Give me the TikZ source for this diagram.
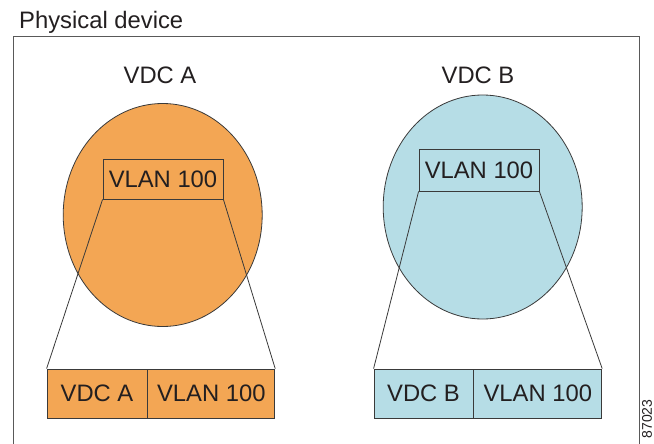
\documentclass[tikz,border=0pt]{standalone}
\usepackage{fontspec}
\setmainfont{Liberation Sans}
\usetikzlibrary{shapes.geometric}
\definecolor{orng}{HTML}{F3A654}
\definecolor{lblue}{HTML}{B6DDE6}
\definecolor{ink}{HTML}{231F20}
\definecolor{edge}{HTML}{3A3A3A}
\begin{document}
\begin{tikzpicture}[x=1pt,y=-1pt,
  lbl/.style={font=\fontsize{23.8}{26}\selectfont, text=ink, inner sep=0pt},
  vdc/.style={ellipse, draw=edge, line width=0.8pt, inner sep=0pt},
  vbox/.style={draw=edge, line width=0.8pt, inner sep=0pt, font=\fontsize{23.8}{26}\selectfont, text=ink},
  link/.style={draw=edge, line width=0.8pt}]
\useasboundingbox (0,0) rectangle (654,444);
\fill[white] (0,0) rectangle (654,444);
% physical device frame
\node[lbl, anchor=base west] (pd) at (19,28.5) {Physical device};
\coordinate (fbl) at (13,450);
\coordinate (ftl) at (13,36);
\coordinate (ftr) at (639,36);
\coordinate (fbr) at (639,450);
\draw[draw=black!65, line width=0.9pt] (fbl) -- (ftl) -- (ftr) -- (fbr);
% VDC A
\node[lbl] (la) at (160,75) {VDC A};
\node[vdc, fill=orng, minimum width=199pt, minimum height=223pt] (ea) at (162.7,215) {};
\node[vbox, minimum width=120pt, minimum height=40pt] (ia) at (163,179) {VLAN 100};
\node[vbox, fill=orng, minimum width=100pt, minimum height=49pt] (ba1) at (97,393.5) {VDC A};
\node[vbox, fill=orng, minimum width=127pt, minimum height=49pt, anchor=west] (ba2) at (ba1.east) {VLAN 100};
\draw[link] (ia.south west) -- (ba1.north west);
\draw[link] (ia.south east) -- (ba2.north east);
% VDC B
\node[lbl] (lb) at (478,75) {VDC B};
\node[vdc, fill=lblue, minimum width=199pt, minimum height=224pt] (eb) at (482.7,207) {};
\node[vbox, minimum width=120pt, minimum height=42pt] (ib) at (479,170) {VLAN 100};
\node[vbox, fill=lblue, minimum width=99pt, minimum height=49pt] (bb1) at (423.5,393.5) {VDC B};
\node[vbox, fill=lblue, minimum width=128pt, minimum height=49pt, anchor=west] (bb2) at (bb1.east) {VLAN 100};
\draw[link] (ib.south west) -- (bb1.north west);
\draw[link] (ib.south east) -- (bb2.north east);
% figure number
\node[font=\fontsize{14}{16}\selectfont, text=ink, rotate=90, inner sep=0pt] (fig) at (647,419) {87023};
\end{tikzpicture}
\end{document}
